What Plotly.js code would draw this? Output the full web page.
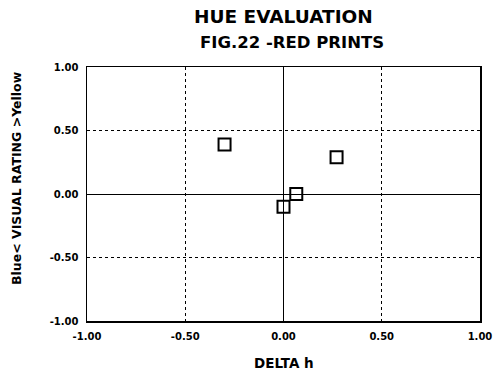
<!DOCTYPE html>
<html>
<head>
<script src="https://cdn.plot.ly/plotly-3.0.1.min.js"></script>
<style>body{margin:0;padding:0;background:#fff;}#chart{width:493px;height:382px;}</style>
</head>
<body>
<div id="chart"></div>
<script>
const deltaH = [-0.30, 0.27, 0.065, 0.0];
const visualRating = [0.39, 0.29, 0.0, -0.10];
const tickVals = [-1, -0.5, 0, 0.5, 1];
const tickText = ['-1.00', '-0.50', '0.00', '0.50', '1.00'];
const titleLines = ['HUE EVALUATION', 'FIG.22 -RED PRINTS'];
const xTitle = 'DELTA h';
const yTitle = 'Blue< VISUAL RATING >Yellow';

const fontFam = 'DejaVu Sans, Verdana, sans-serif';
const data = [{
  x: deltaH, y: visualRating, type: 'scatter', mode: 'markers',
  marker: {symbol: 'square-open', size: 12, color: '#000', line: {width: 2, color: '#000'}},
  hoverinfo: 'none'
}];
const axisCommon = {
  range: [-1, 1], tickvals: tickVals, ticktext: tickText,
  showgrid: true, gridcolor: '#000', gridwidth: 1.2, griddash: 'dot',
  zeroline: true, zerolinecolor: '#000', zerolinewidth: 1,
  showline: true, linecolor: '#000', linewidth: 1.5, mirror: true,
  ticks: '', tickfont: {family: fontFam, size: 10, color: '#000', weight: 'bold'}
};
const layout = {
  width: 493, height: 382,
  margin: {l: 87, r: 13, t: 67, b: 61},
  paper_bgcolor: '#fff', plot_bgcolor: '#fff',
  showlegend: false,
  xaxis: Object.assign({}, axisCommon, {ticklabelstandoff: 5}),
  yaxis: Object.assign({}, axisCommon, {ticklabelstandoff: 5}),
  annotations: [
    {text: '<b>' + titleLines[0] + '</b>', xref: 'paper', yref: 'paper', x: 0.5, y: 1, yshift: 67 - 16.5, xanchor: 'center', yanchor: 'middle', showarrow: false,
      font: {family: fontFam, size: 18.5, color: '#000'}},
    {text: '<b>' + titleLines[1] + '</b>', xref: 'paper', yref: 'paper', x: 0.5, y: 1, xshift: 8, yshift: 67 - 42.5, xanchor: 'center', yanchor: 'middle', showarrow: false,
      font: {family: fontFam, size: 16.5, color: '#000'}},
    {text: '<b>' + xTitle + '</b>', xref: 'paper', yref: 'paper', x: 0.5, y: 0, yshift: -(363 - 321), xanchor: 'center', yanchor: 'middle', showarrow: false,
      font: {family: fontFam, size: 13.5, color: '#000'}},
    {text: '<b>' + yTitle + '</b>', xref: 'paper', yref: 'paper', x: 0, y: 0.5, xshift: -(87 - 16), yshift: 194 - 178, textangle: -90, xanchor: 'center', yanchor: 'middle', showarrow: false,
      font: {family: fontFam, size: 12.5, color: '#000'}}
  ]
};
Plotly.newPlot('chart', data, layout, {displayModeBar: false, staticPlot: true});
</script>
</body>
</html>
